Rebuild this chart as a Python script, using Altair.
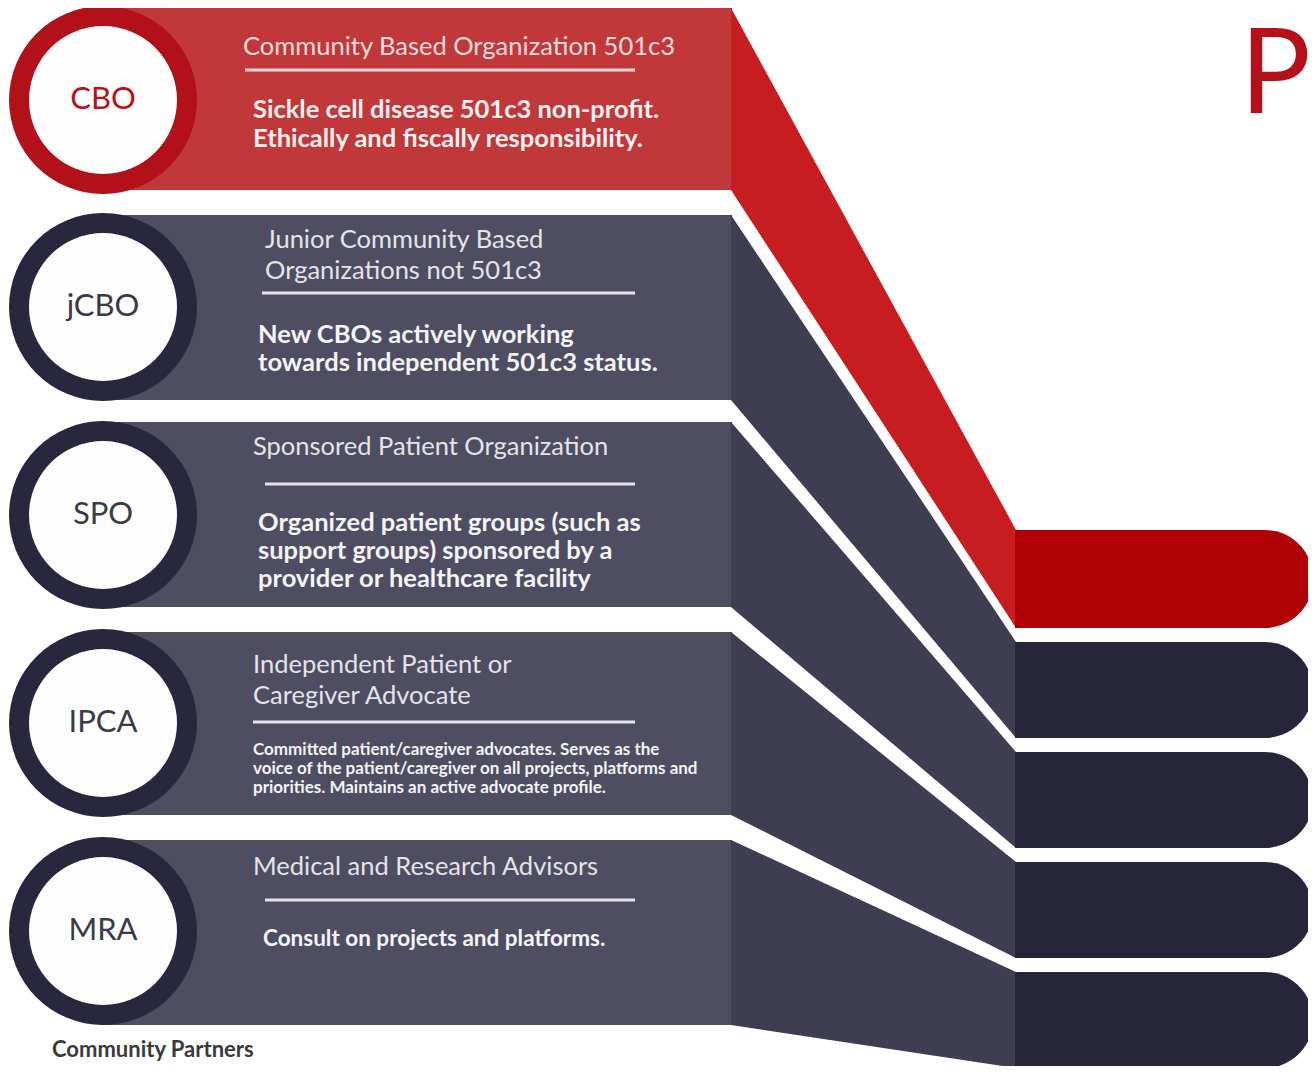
import altair as alt
import pandas as pd

# ---- content ----
labels = ["CBO", "jCBO", "SPO", "IPCA", "MRA"]
titles = [
    ["Community Based Organization 501c3"],
    ["Junior Community Based", "Organizations not 501c3"],
    ["Sponsored Patient Organization"],
    ["Independent Patient or", "Caregiver Advocate"],
    ["Medical and Research Advisors"],
]
descs = [
    ["Sickle cell disease 501c3 non-profit.", "Ethically and fiscally responsibility."],
    ["New CBOs actively working", "towards independent 501c3 status."],
    ["Organized patient groups (such as", "support groups) sponsored by a", "provider or healthcare facility"],
    ["Committed patient/caregiver advocates.  Serves as the",
     "voice of the patient/caregiver on all projects, platforms and",
     "priorities.  Maintains an active advocate profile."],
    ["Consult on projects and platforms."],
]
footer = "Community Partners"
big_title = "P"

# ---- layout (pixel positions) ----
band_top = [8, 215, 422, 632, 840]
band_bot = [190, 400, 607, 815, 1025]
bar_top = [530, 642, 752, 862, 972]
bar_bot = [628, 738, 848, 958, 1068]
circle_x = 103
circle_y = [100, 307, 515, 723, 931]
title_x = [243, 265, 253, 253, 253]
title_y = [47, 240, 447, 665, 867]
rule_x1 = [245, 262, 265, 253, 265]
rule_y = [70, 293, 484, 722, 900]
desc_x = [253, 258, 258, 253, 263]
desc_y = [110, 335, 523, 750, 939]
desc_gap = [29, 28, 28, 19, 0]
desc_size = [25.5, 25.5, 25.5, 17, 22.5]
BAND_X0, BAND_X1, BAR_X1, RULE_X2 = 100, 732, 1313, 635

RED_BAND, RED_DIAG, RED_BAR, RED_RING = "#c1383b", "#c71d20", "#b00204", "#b3111a"
DK_BAND, DK_DIAG, DK_BAR, DK_RING = "#4e4d61", "#3e3d51", "#27253a", "#29273e"

is_red = [i == 0 for i in range(len(labels))]

bands = pd.DataFrame({
    "cat": labels, "x": [BAND_X0] * 5, "x2": [BAND_X1] * 5,
    "y": band_top, "y2": band_bot,
    "fill": [RED_BAND if r else DK_BAND for r in is_red],
})
bars = pd.DataFrame({
    "cat": labels, "x": [1015] * 5, "x2": [BAR_X1] * 5,
    "y": bar_top, "y2": bar_bot,
    "fill": [RED_BAR if r else DK_BAR for r in is_red],
})
diag_rows = []
for i, c in enumerate(labels):
    f = RED_DIAG if is_red[i] else DK_DIAG
    diag_rows.append({"cat": c, "x": BAND_X1 - 1, "y": band_top[i], "y2": band_bot[i], "fill": f})
    diag_rows.append({"cat": c, "x": 1016, "y": bar_top[i], "y2": bar_bot[i], "fill": f})
diags = pd.DataFrame(diag_rows)

circles = pd.DataFrame({
    "cat": labels, "x": [circle_x] * 5, "y": circle_y,
    "ring": [RED_RING if r else DK_RING for r in is_red],
    "tcol": ["#b5141c" if r else "#3b3b48" for r in is_red],
})

title_rows, desc_rows, rule_rows = [], [], []
for i in range(len(labels)):
    tc = "#f7dcdc" if is_red[i] else "#e4e4ea"
    for j, t in enumerate(titles[i]):
        title_rows.append({"x": title_x[i], "y": title_y[i] + 31 * j, "text": t, "col": tc})
    dc = "#fdf0f0" if is_red[i] else "#f4f4f6"
    for j, t in enumerate(descs[i]):
        desc_rows.append({"x": desc_x[i], "y": desc_y[i] + desc_gap[i] * j, "text": t,
                          "col": dc, "size": desc_size[i]})
    rule_rows.append({"x": rule_x1[i], "x2": RULE_X2, "y": rule_y[i], "col": tc})
title_df = pd.DataFrame(title_rows)
desc_df = pd.DataFrame(desc_rows)
rule_df = pd.DataFrame(rule_rows)

xs = alt.Scale(domain=[8, 1308], nice=False, zero=False)
ys = alt.Scale(domain=[8, 1066], nice=False, zero=False, reverse=True)
X = alt.X("x:Q", scale=xs, axis=None)
Y = alt.Y("y:Q", scale=ys, axis=None)

band_layer = alt.Chart(bands).mark_rect().encode(
    x=X, x2="x2:Q", y=Y, y2="y2:Q", color=alt.Color("fill:N", scale=None))
diag_layer = alt.Chart(diags).mark_area(interpolate="linear").encode(
    x=X, y=Y, y2="y2:Q", detail="cat:N", color=alt.Color("fill:N", scale=None))
bar_layer = alt.Chart(bars).mark_rect(cornerRadiusTopRight=48, cornerRadiusBottomRight=48).encode(
    x=X, x2="x2:Q", y=Y, y2="y2:Q", color=alt.Color("fill:N", scale=None))

ring_layer = alt.Chart(circles).mark_point(shape="circle", filled=True, opacity=1, size=35344).encode(
    x=X, y=Y, color=alt.Color("ring:N", scale=None))
inner_layer = alt.Chart(circles).mark_point(shape="circle", filled=True, opacity=1, size=21904,
                                            color="#fdfdfd").encode(x=X, y=Y)
clabel_layer = alt.Chart(circles).mark_text(font="Lato", fontSize=31, align="center",
                                            baseline="middle").encode(
    x=X, y=Y, text="cat:N", color=alt.Color("tcol:N", scale=None))

title_layer = alt.Chart(title_df).mark_text(font="Lato", fontSize=25.5, align="left",
                                            baseline="middle").encode(
    x=X, y=Y, text="text:N", color=alt.Color("col:N", scale=None))
rule_layer = alt.Chart(rule_df).mark_rule(strokeWidth=3).encode(
    x=X, x2="x2:Q", y=Y, color=alt.Color("col:N", scale=None))
desc_layer = alt.Chart(desc_df).mark_text(font="Lato", fontWeight="bold", align="left",
                                          baseline="middle").encode(
    x=X, y=Y, text="text:N", color=alt.Color("col:N", scale=None),
    size=alt.Size("size:Q", scale=None))

misc = pd.DataFrame({"x": [52], "y": [1050], "text": [footer]})
footer_layer = alt.Chart(misc).mark_text(font="Lato", fontWeight="bold", fontSize=22, align="left",
                                         baseline="middle", color="#3a3a3a").encode(
    x=X, y=Y, text="text:N")
big = pd.DataFrame({"x": [1240], "y": [113], "text": [big_title]})
big_layer = alt.Chart(big).mark_text(font="Lato", fontSize=118, align="left",
                                     baseline="alphabetic", color="#b5101a").encode(
    x=X, y=Y, text="text:N")

chart = alt.layer(
    band_layer, diag_layer, bar_layer, ring_layer, inner_layer, clabel_layer,
    title_layer, rule_layer, desc_layer, footer_layer, big_layer,
).properties(
    width=1300, height=1058, padding=0, autosize=alt.AutoSizeParams(type="none"),
    background="#ffffff",
).configure_view(stroke=None)

chart.save("out.html", embed_options={"renderer": "svg", "actions": False})
